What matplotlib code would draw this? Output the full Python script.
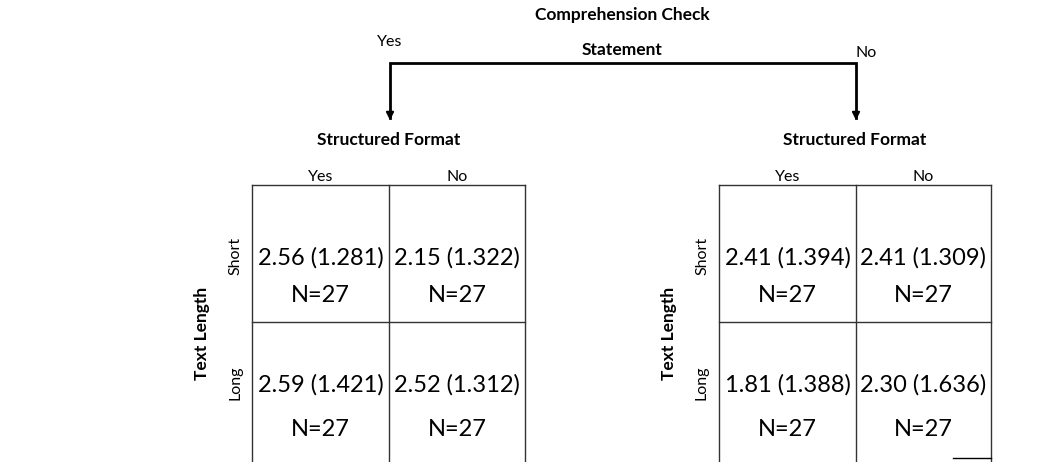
import matplotlib.pyplot as plt
import numpy as np

plt.rcParams['font.family'] = ['Lato', 'DejaVu Sans']

# data
check_labels = ["Yes", "No"]
format_labels = ["Yes", "No"]
length_labels = ["Short", "Long"]
means_yes = [[2.56, 2.15], [2.59, 2.52]]
sds_yes = [[1.281, 1.322], [1.421, 1.312]]
means_no = [[2.41, 2.41], [1.81, 2.30]]
sds_no = [[1.394, 1.309], [1.388, 1.636]]
n_yes = [[27, 27], [27, 27]]
n_no = [[27, 27], [27, 27]]

fig = plt.figure(figsize=(10.55, 4.62), dpi=100)
ax = fig.add_axes([0, 0, 1, 1])
ax.set_xlim(0, 1055)
ax.set_ylim(462, 0)
ax.axis('off')

bold_fs = 12.5
small_fs = 11.5
cell_fs = 17

# header / bracket
ax.text(622, 15, "Comprehension Check", ha='center', va='center', fontsize=bold_fs, fontweight='bold')
ax.text(622, 50, "Statement", ha='center', va='center', fontsize=bold_fs, fontweight='bold')
ax.text(390, 42, check_labels[0], ha='center', va='center', fontsize=small_fs)
ax.text(866, 53, check_labels[1], ha='center', va='center', fontsize=small_fs)
ax.plot([390, 390, 856, 856], [118, 63, 63, 118], color='black', lw=2, solid_joinstyle='miter')
for xa in [390, 856]:
    ax.annotate("", xy=(xa, 123), xytext=(xa, 110),
                arrowprops=dict(arrowstyle='-|>', color='black', lw=1.5, mutation_scale=11))


def draw_table(x0, x1, x2, means, sds, ns, bottom_seg=False):
    top, mid, bot = 185, 322, 462
    lc = '#333333'
    ax.plot([x0, x2], [top, top], color=lc, lw=1)
    ax.plot([x0, x2], [mid, mid], color=lc, lw=1)
    for xv in [x0, x1, x2]:
        ax.plot([xv, xv], [top, bot], color=lc, lw=1)
    if bottom_seg:
        ax.plot([953, x2], [458, 458], color='black', lw=1)
    xc = (x0 + x2) / 2
    ax.text(xc, 140, "Structured Format", ha='center', va='center', fontsize=bold_fs, fontweight='bold')
    cols = [(x0 + x1) / 2, (x1 + x2) / 2]
    for j, lab in enumerate(format_labels):
        ax.text(cols[j], 177, lab, ha='center', va='center', fontsize=small_fs)
    ax.text(x0 - 17, 256, length_labels[0], ha='center', va='center', fontsize=small_fs, rotation=90)
    ax.text(x0 - 17, 383, length_labels[1], ha='center', va='center', fontsize=small_fs, rotation=90)
    ax.text(x0 - 50, 333, "Text Length", ha='center', va='center', fontsize=bold_fs,
            fontweight='bold', rotation=90)
    rows_val = [258, 385]
    rows_n = [295, 430]
    for i in range(2):
        for j in range(2):
            ax.text(cols[j], rows_val[i], f"{means[i][j]:.2f} ({sds[i][j]:.3f})",
                    ha='center', va='center', fontsize=cell_fs)
            ax.text(cols[j], rows_n[i], f"N={ns[i][j]}", ha='center', va='center', fontsize=cell_fs)


draw_table(252, 389, 525, means_yes, sds_yes, n_yes)
draw_table(719, 856, 991, means_no, sds_no, n_no, bottom_seg=True)

fig.savefig("out.png", dpi=100)
